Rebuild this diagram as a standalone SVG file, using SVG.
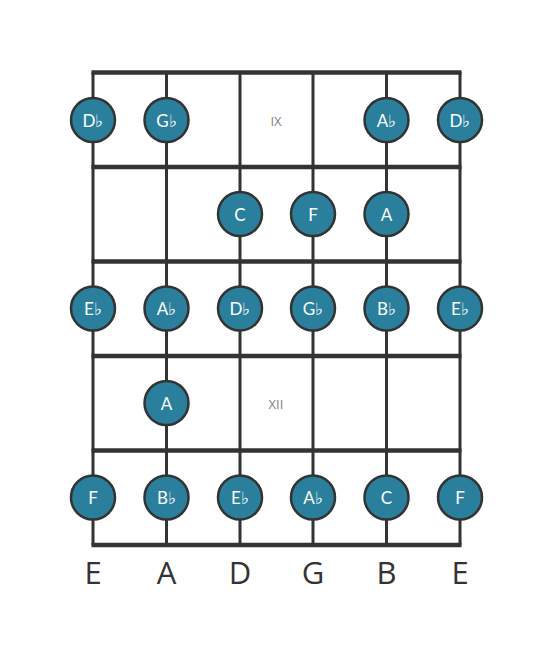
<svg xmlns="http://www.w3.org/2000/svg" width="553" height="656" viewBox="0 0 553 656">
<style>
.fret{stroke:#333;stroke-width:4.5;}
.str{stroke:#333;stroke-width:3;}
.note circle{fill:#2a7f9c;stroke:#333;stroke-width:2.5;}
.note text{fill:#fff;font-family:Lato,"Open Sans",sans-serif;font-size:17px;text-anchor:middle;dominant-baseline:central;}
.pos{fill:#808080;font-family:"Open Sans",Lato,sans-serif;font-size:13px;text-anchor:middle;dominant-baseline:central;}
.sl{fill:#333;font-family:"Open Sans",Lato,sans-serif;font-size:31px;text-anchor:middle;}
</style>
<rect width="553" height="656" fill="#fff"/>
<g id="board">
<line class="str" x1="93" y1="72" x2="93" y2="545"/>
<line class="str" x1="166.5" y1="72" x2="166.5" y2="545"/>
<line class="str" x1="240" y1="72" x2="240" y2="545"/>
<line class="str" x1="313" y1="72" x2="313" y2="545"/>
<line class="str" x1="386.5" y1="72" x2="386.5" y2="545"/>
<line class="str" x1="460" y1="72" x2="460" y2="545"/>
<line class="fret" x1="91.5" y1="72.5" x2="461.5" y2="72.5"/>
<line class="fret" x1="91.5" y1="167" x2="461.5" y2="167"/>
<line class="fret" x1="91.5" y1="261.5" x2="461.5" y2="261.5"/>
<line class="fret" x1="91.5" y1="356" x2="461.5" y2="356"/>
<line class="fret" x1="91.5" y1="450.5" x2="461.5" y2="450.5"/>
<line class="fret" x1="91.5" y1="545" x2="461.5" y2="545"/>
<text class="pos" x="276" y="121">IX</text>
<text class="pos" x="276" y="404">XII</text>
</g>
<g id="n1" class="note"><circle cx="93" cy="120" r="22"/><text x="93" y="120">D♭</text></g>
<g id="n2" class="note"><circle cx="166.5" cy="120" r="22"/><text x="166.5" y="120">G♭</text></g>
<g id="n3" class="note"><circle cx="386.5" cy="120" r="22"/><text x="386.5" y="120">A♭</text></g>
<g id="n4" class="note"><circle cx="460" cy="120" r="22"/><text x="460" y="120">D♭</text></g>
<g id="n5" class="note"><circle cx="240" cy="214" r="22"/><text x="240" y="214">C</text></g>
<g id="n6" class="note"><circle cx="313" cy="214" r="22"/><text x="313" y="214">F</text></g>
<g id="n7" class="note"><circle cx="386.5" cy="214" r="22"/><text x="386.5" y="214">A</text></g>
<g id="n8" class="note"><circle cx="93" cy="308.5" r="22"/><text x="93" y="308.5">E♭</text></g>
<g id="n9" class="note"><circle cx="166.5" cy="308.5" r="22"/><text x="166.5" y="308.5">A♭</text></g>
<g id="n10" class="note"><circle cx="240" cy="308.5" r="22"/><text x="240" y="308.5">D♭</text></g>
<g id="n11" class="note"><circle cx="313" cy="308.5" r="22"/><text x="313" y="308.5">G♭</text></g>
<g id="n12" class="note"><circle cx="386.5" cy="308.5" r="22"/><text x="386.5" y="308.5">B♭</text></g>
<g id="n13" class="note"><circle cx="460" cy="308.5" r="22"/><text x="460" y="308.5">E♭</text></g>
<g id="n14" class="note"><circle cx="166.5" cy="403" r="22"/><text x="166.5" y="403">A</text></g>
<g id="n15" class="note"><circle cx="93" cy="497.5" r="22"/><text x="93" y="497.5">F</text></g>
<g id="n16" class="note"><circle cx="166.5" cy="497.5" r="22"/><text x="166.5" y="497.5">B♭</text></g>
<g id="n17" class="note"><circle cx="240" cy="497.5" r="22"/><text x="240" y="497.5">E♭</text></g>
<g id="n18" class="note"><circle cx="313" cy="497.5" r="22"/><text x="313" y="497.5">A♭</text></g>
<g id="n19" class="note"><circle cx="386.5" cy="497.5" r="22"/><text x="386.5" y="497.5">C</text></g>
<g id="n20" class="note"><circle cx="460" cy="497.5" r="22"/><text x="460" y="497.5">F</text></g>
<g id="labels">
<text class="sl" x="93" y="584">E</text>
<text class="sl" x="166.5" y="584">A</text>
<text class="sl" x="240" y="584">D</text>
<text class="sl" x="313" y="584">G</text>
<text class="sl" x="386.5" y="584">B</text>
<text class="sl" x="460" y="584">E</text>
</g>
</svg>
